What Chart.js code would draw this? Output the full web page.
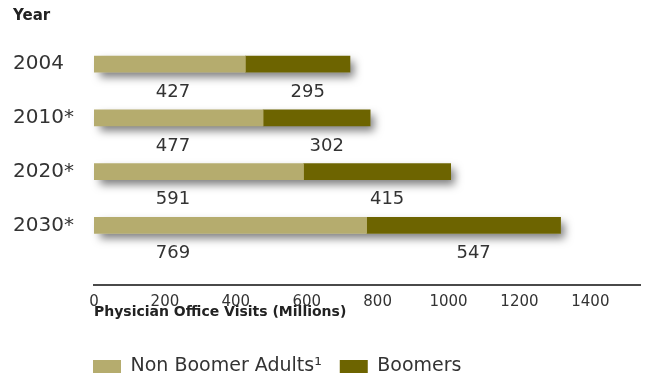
<!DOCTYPE html>
<html><head><meta charset="utf-8">
<script src="https://cdn.jsdelivr.net/npm/chart.js@4.4.1/dist/chart.umd.min.js"></script>
<style>html,body{margin:0;padding:0;background:#fff;overflow:hidden;}</style>
</head><body>
<canvas id="c" width="654" height="379"></canvas>
<script>
const years = ['2004', '2010*', '2020*', '2030*'];
const nonBoomers = [427, 477, 591, 769];
const boomers = [295, 302, 415, 547];
const xTicks = [0, 200, 400, 600, 800, 1000, 1200, 1400];
const seriesNames = ['Non Boomer Adults\u00B9', 'Boomers'];
const axisTitle = 'Physician Office Visits (Millions)';
const yearTitle = 'Year';

const LIGHT = '#b5ac6e', DARK = '#6d6400', TEXT = '#333333';
const FONT = 'DejaVu Sans';

const decor = {
  id: 'decor',
  beforeDraw(chart) {
    const lg = chart.legend;
    if (lg) {
      const w = lg.width, h = lg.height;
      lg.left = 75; lg.right = 75 + w;
      lg.top = 339; lg.bottom = 339 + h;
    }
  },
  beforeDatasetsDraw(chart) {
    // soft drop shadow under each whole stacked bar
    const c = chart.ctx;
    const m0 = chart.getDatasetMeta(0).data, m1 = chart.getDatasetMeta(1).data;
    c.save();
    c.shadowColor = 'rgba(0,0,0,0.5)';
    c.shadowBlur = 9;
    c.shadowOffsetX = 4;
    c.shadowOffsetY = 5;
    c.fillStyle = '#ffffff';
    m0.forEach((el, i) => {
      const end = m1[i].x;
      const h = el.height;
      c.fillRect(el.base + 2, el.y - h / 2, end - el.base - 2, h);
    });
    c.restore();
  },
  afterDatasetsDraw(chart) {
    const c = chart.ctx;
    c.save();
    c.font = '18px "' + FONT + '"';
    c.fillStyle = TEXT;
    c.textAlign = 'center';
    c.textBaseline = 'middle';
    chart.getDatasetMeta(0).data.forEach((el, i) => {
      c.fillText(String(nonBoomers[i]), el.base + 79, el.y + 28);
    });
    chart.getDatasetMeta(1).data.forEach((el, i) => {
      c.fillText(String(boomers[i]), (el.base + el.x) / 2 + 10, el.y + 28);
    });
    c.restore();
  }
};

new Chart(document.getElementById('c'), {
  type: 'bar',
  data: {
    datasets: [
      { label: seriesNames[0], data: nonBoomers.map((v, i) => ({ x: v, y: i })), backgroundColor: LIGHT, borderWidth: 0, barThickness: 16 },
      { label: seriesNames[1], data: boomers.map((v, i) => ({ x: v, y: i })), backgroundColor: DARK, borderWidth: 0, barThickness: 16 }
    ]
  },
  options: {
    indexAxis: 'y',
    responsive: false,
    animation: false,
    layout: { padding: { left: 13, right: 14, top: 0, bottom: 7 } },
    scales: {
      x: {
        type: 'linear', stacked: true, min: 0, max: 1540,
        afterBuildTicks: s => { s.ticks = xTicks.map(v => ({ value: v })); },
        afterFit: s => { s.height = 40; },
        grid: { display: false, drawTicks: false },
        border: { display: true, color: '#4a4a4a', width: 2 },
        ticks: { callback: v => String(v), font: { family: FONT, size: 15 }, color: TEXT, padding: 8, maxRotation: 0, autoSkip: false },
        title: { display: true, text: axisTitle, align: 'start', font: { family: FONT, size: 14, weight: 'bold' }, color: '#222', padding: { top: 0, bottom: 4 } }
      },
      y: {
        type: 'linear', reverse: true, stacked: true, offset: false, min: -0.636, max: 4.108,
        afterBuildTicks: s => { s.ticks = years.map((_, i) => ({ value: i })); },
        afterFit: s => { s.width = 81; },
        grid: { display: false, offset: false },
        border: { display: false },
        ticks: { callback: v => (years[v] !== undefined ? years[v] : ''), crossAlign: 'far', font: { family: FONT, size: 20 }, color: TEXT, autoSkip: false }
      }
    },
    plugins: {
      title: { display: true, text: yearTitle, align: 'start', font: { family: FONT, size: 15, weight: 'bold' }, color: '#222', padding: { top: 7, bottom: 5 } },
      legend: {
        display: true, position: 'bottom', align: 'start',
        labels: { boxWidth: 28, boxHeight: 13, padding: 18, font: { family: FONT, size: 19 }, color: TEXT }
      },
      tooltip: { enabled: false }
    }
  },
  plugins: [decor]
});
</script>
</body></html>
